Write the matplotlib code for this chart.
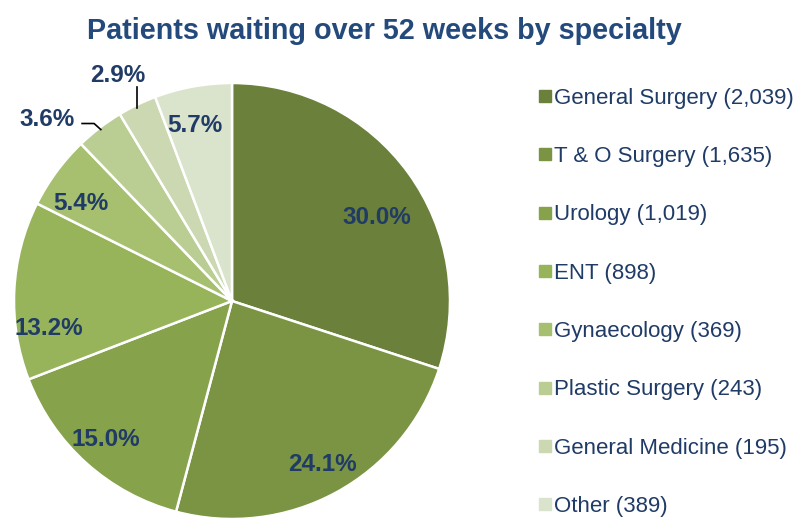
import numpy as np
import matplotlib
matplotlib.use('Agg')
import matplotlib.pyplot as plt
from matplotlib.lines import Line2D

plt.rcParams['font.family'] = ['Liberation Sans', 'DejaVu Sans']

# data
specialties = ['General Surgery', 'T & O Surgery', 'Urology', 'ENT', 'Gynaecology',
               'Plastic Surgery', 'General Medicine', 'Other']
patients = [2039, 1635, 1019, 898, 369, 243, 195, 389]
colours = ['#6B803B', '#7A9444', '#86A24B', '#97B45B', '#A7C06F',
           '#BACE94', '#CBD8B2', '#DAE3CB']
outside = ['Plastic Surgery', 'General Medicine']   # labels pulled out with leader lines

navy = '#1F3B66'

fig = plt.figure(figsize=(8.06, 5.19), dpi=100)
ax = fig.add_axes([14/806, 0.0, 436/806, 436/519])

wedges, texts, autotexts = ax.pie(patients, colors=colours, startangle=90, counterclock=False,
                                  autopct='%1.1f%%', pctdistance=0.82, radius=1,
                                  wedgeprops=dict(edgecolor='white', linewidth=1.8),
                                  textprops=dict(color=navy, fontsize=17.5, fontweight='bold'))
ax.set_xlim(-1, 1)
ax.set_ylim(-1, 1)
ax.set_aspect('equal')

# small nudges so the inside labels sit where excel put them
nudge = {'General Surgery': (0.0, -0.096), 'T & O Surgery': (0.023, -0.028),
         'Urology': (-0.032, -0.023), 'ENT': (-0.023, -0.165),
         'Gynaecology': (-0.032, -0.041), 'Other': (-0.023, 0.0)}

for w, t, name in zip(wedges, autotexts, specialties):
    if name in nudge:
        x, y = t.get_position()
        dx, dy = nudge[name]
        t.set_position((x + dx, y + dy))
        continue
    mid = np.deg2rad((w.theta1 + w.theta2) / 2)
    ex, ey = np.cos(mid), np.sin(mid)
    if name == 'General Medicine':
        ax.plot([ex, ex], [ey - 0.015, ey + 0.08], color='black', lw=1.2, clip_on=False)
        t.set_position((ex - 0.09, ey + 0.135))
    else:
        ax.plot([ex * 0.99, ex - 0.025, ex - 0.08], [ey * 0.99, ey + 0.02, ey + 0.02],
                color='black', lw=1.2, clip_on=False)
        t.set_position((ex - 0.24, ey + 0.04))
    t.set_ha('center')
    t.set_va('center')
    t.set_clip_on(False)

fig.text(0.477, 0.94, 'Patients waiting over 52 weeks by specialty', ha='center', va='center',
         fontsize=20.7, fontweight='bold', color='#244A7C')

handles = [Line2D([], [], marker='s', linestyle='none', markersize=9, markerfacecolor=c,
                  markeredgecolor=c) for c in colours]
labels = ['{} ({:,})'.format(s, n) for s, n in zip(specialties, patients)]
leg = fig.legend(handles, labels, loc='upper left', bbox_to_anchor=(0.657, 0.848),
                 frameon=False, fontsize=16, labelspacing=1.68, handlelength=0.6,
                 handletextpad=0.1, borderaxespad=0)
for txt in leg.get_texts():
    txt.set_color(navy)

plt.savefig('out.png', dpi=100)
